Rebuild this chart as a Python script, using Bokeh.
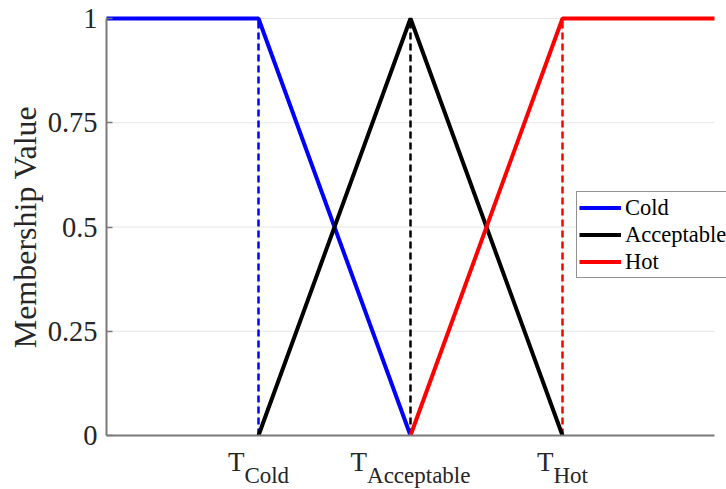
import math
from bokeh.plotting import figure
from bokeh.models import FixedTicker, Range1d, Legend, LegendItem, Label, LinearAxis
from bokeh.embed import file_html
from bokeh.resources import INLINE

# ---- data ----
x_cold = [0, 1, 2]
y_cold = [1, 1, 0]
x_acc = [1, 2, 3]
y_acc = [0, 1, 0]
x_hot = [2, 3, 4]
y_hot = [0, 1, 1]
x_domain = [0, 4]
thresholds = [1, 2, 3]
threshold_colors = ["#0000ff", "#000000", "#ff0000"]
x_tick_main = ["T", "T", "T"]
x_tick_subs = ["Cold", "Acceptable", "Hot"]
y_ticks = [0, 0.25, 0.5, 0.75, 1]
y_tick_labels = ["0", "0.25", "0.5", "0.75", "1"]
y_label = "Membership Value"

FONT = "Liberation Serif"
TXT = "#262626"
AX = "#7a7a7a"
GRID = "#e6e6e6"

# layout (pixels): the frame covers the whole canvas
W_PX, H_PX = 726, 489
Y0_PX, Y1_PX = 435, 18          # pixel rows of y=0 and y=1
X0_PX, X4_PX = 106, 714          # pixel columns of x=0 and x=4
ppu_y = (Y0_PX - Y1_PX) / 1.0
ppu_x = (X4_PX - X0_PX) / (x_domain[1] - x_domain[0])
y_lo = -(H_PX - Y0_PX) / ppu_y
y_hi = 1 + Y1_PX / ppu_y
x_lo = x_domain[0] - X0_PX / ppu_x
x_hi = x_domain[0] + (W_PX - X0_PX) / ppu_x

p = figure(width=W_PX, height=H_PX, output_backend="svg", toolbar_location=None,
           x_range=Range1d(x_lo, x_hi), y_range=Range1d(y_lo, y_hi),
           x_axis_type=None, y_axis_type=None,
           min_border_left=0, min_border_right=0, min_border_top=0,
           min_border_bottom=0)
p.outline_line_color = None
p.background_fill_color = "white"
p.border_fill_color = "white"

# grid lines (stop at the data domain)
p.segment(x0=thresholds, y0=[0] * len(thresholds), x1=thresholds,
          y1=[1] * len(thresholds), line_color=GRID, line_width=1)
p.segment(x0=[x_domain[0]] * len(y_ticks), y0=y_ticks,
          x1=[x_domain[1]] * len(y_ticks), y1=y_ticks,
          line_color=GRID, line_width=1)

# y axis drawn at x=0
ax = LinearAxis(fixed_location=x_domain[0])
ax.ticker = FixedTicker(ticks=y_ticks)
ax.bounds = (0, 1)
ax.axis_line_color = AX
ax.axis_line_width = 2
ax.major_tick_line_color = AX
ax.major_tick_line_width = 1.5
ax.major_tick_in = 6
ax.major_tick_out = 0
ax.minor_tick_line_color = None
ax.major_label_text_font = FONT
ax.major_label_text_color = TXT
ax.major_label_text_font_size = "28.5px"
ax.major_label_overrides = {t: l for t, l in zip(y_ticks, y_tick_labels)}
ax.major_label_standoff = 9
p.add_layout(ax, "left")

p.add_layout(Label(x=x_domain[0], y=0.5, x_offset=-82, text=y_label,
                   angle=math.pi / 2, text_font=FONT, text_font_size="32px",
                   text_color=TXT, text_align="center",
                   text_baseline="alphabetic"))

# dashed threshold lines
for xt, c in zip(thresholds, threshold_colors):
    p.line([xt, xt], [0, 1], line_color=c, line_width=2.5, line_dash="7 4")

r_cold = p.line(x_cold, y_cold, line_color="#0000ff", line_width=4)
r_acc = p.line(x_acc, y_acc, line_color="#000000", line_width=4)
r_hot = p.line(x_hot, y_hot, line_color="#ff0000", line_width=4)

# x axis line
p.line(x_domain, [0, 0], line_color=AX, line_width=2)

legend = Legend(items=[LegendItem(label="Cold", renderers=[r_cold]),
                       LegendItem(label="Acceptable", renderers=[r_acc]),
                       LegendItem(label="Hot", renderers=[r_hot])],
                location=(576, 211))
legend.label_text_font = FONT
legend.label_text_font_size = "22.5px"
legend.label_text_color = "#000000"
legend.border_line_color = "#262626"
legend.border_line_width = 1
legend.background_fill_color = "white"
legend.background_fill_alpha = 1
legend.glyph_width = 42
legend.glyph_height = 27
legend.label_height = 27
legend.label_standoff = 4
legend.padding = 2
legend.spacing = 0
legend.margin = 0
p.add_layout(legend)

# x tick labels with subscripts (Times-like advance widths, em units)
W = {"T": 0.611, "C": 0.667, "o": 0.5, "l": 0.278, "d": 0.5, "A": 0.722,
     "c": 0.444, "e": 0.444, "p": 0.5, "t": 0.278, "a": 0.444, "b": 0.5,
     "H": 0.722}
MAIN_SIZE = 27
SUB_SIZE = 23
for xt, m, s in zip(thresholds, x_tick_main, x_tick_subs):
    wm = sum(W.get(ch, 0.5) for ch in m) * MAIN_SIZE
    ws = sum(W.get(ch, 0.5) for ch in s) * SUB_SIZE
    joint = (wm - ws) / 2.0
    p.add_layout(Label(x=xt, y=0, x_offset=joint, y_offset=-26, text=m,
                       text_font=FONT, text_font_size=f"{MAIN_SIZE}px",
                       text_color=TXT, text_align="right",
                       text_baseline="alphabetic"))
    p.add_layout(Label(x=xt, y=0, x_offset=joint, y_offset=-40, text=s,
                       text_font=FONT, text_font_size=f"{SUB_SIZE}px",
                       text_color=TXT, text_align="left",
                       text_baseline="alphabetic"))

open("out.html", "w").write(file_html(p, INLINE))
